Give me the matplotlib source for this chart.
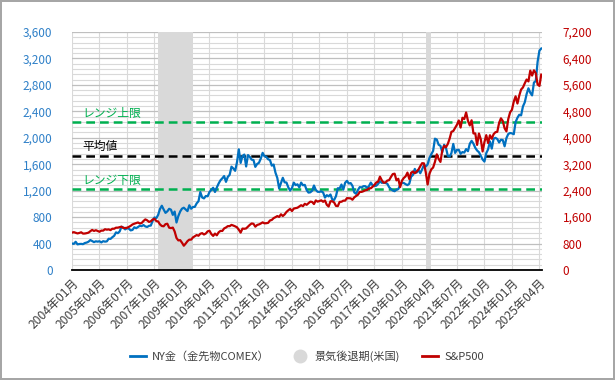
import matplotlib
matplotlib.use("Agg")
import matplotlib.pyplot as plt
import numpy as np
from matplotlib.ticker import FuncFormatter, MultipleLocator
from matplotlib.lines import Line2D

plt.rcParams['font.family'] = ['Noto Sans CJK JP', 'DejaVu Sans']

# ---- data (monthly, 2004-01 .. 2025-05) ----
start_year, start_month = 2004, 1

gold = [
    400, 396, 427, 388, 393, 395, 391, 408, 415, 428, 453, 438,
    422, 434, 429, 435, 417, 436, 429, 433, 473, 470, 496, 517,
    569, 557, 583, 654, 643, 614, 632, 626, 599, 606, 646, 632,
    651, 669, 663, 680, 659, 651, 668, 672, 743, 795, 783, 834,
    923, 972, 916, 864, 887, 926, 912, 834, 884, 718, 815, 884,
    928, 942, 917, 891, 979, 927, 953, 955, 1008, 1040, 1179, 1097,
    1083, 1119, 1115, 1180, 1213, 1244, 1180, 1248, 1309, 1357, 1387, 1421,
    1333, 1409, 1439, 1563, 1536, 1500, 1628, 1825, 1620, 1725, 1746, 1566,
    1738, 1711, 1669, 1664, 1560, 1604, 1622, 1687, 1772, 1719, 1711, 1675,
    1663, 1578, 1595, 1472, 1393, 1234, 1313, 1395, 1326, 1323, 1250, 1202,
    1240, 1322, 1284, 1296, 1250, 1322, 1282, 1287, 1210, 1171, 1175, 1199,
    1278, 1212, 1183, 1182, 1190, 1172, 1095, 1132, 1114, 1142, 1065, 1060,
    1116, 1237, 1234, 1293, 1215, 1320, 1349, 1308, 1315, 1273, 1173, 1152,
    1211, 1254, 1249, 1268, 1268, 1242, 1269, 1322, 1280, 1270, 1275, 1303,
    1343, 1318, 1323, 1316, 1305, 1253, 1224, 1202, 1192, 1215, 1223, 1282,
    1321, 1316, 1298, 1284, 1305, 1413, 1437, 1529, 1473, 1513, 1464, 1523,
    1588, 1566, 1597, 1694, 1751, 1801, 1986, 1973, 1895, 1879, 1780, 1895,
    1850, 1728, 1716, 1769, 1907, 1771, 1817, 1818, 1757, 1784, 1776, 1829,
    1797, 1909, 1954, 1911, 1848, 1807, 1782, 1726, 1672, 1640, 1768, 1826,
    1945, 1836, 1986, 1999, 1982, 1929, 1970, 1966, 1871, 1996, 2057, 2072,
    2067, 2054, 2238, 2303, 2348, 2339, 2474, 2536, 2660, 2749, 2681, 2641,
    2835, 2858, 3150, 3319, 3350,
]

sp500 = [
    1131, 1145, 1126, 1107, 1121, 1141, 1102, 1104, 1115, 1130, 1174, 1212,
    1181, 1204, 1181, 1157, 1192, 1191, 1234, 1220, 1229, 1207, 1249, 1248,
    1280, 1281, 1295, 1311, 1270, 1270, 1277, 1304, 1336, 1378, 1401, 1418,
    1438, 1407, 1421, 1482, 1531, 1503, 1455, 1474, 1527, 1549, 1481, 1468,
    1379, 1331, 1323, 1386, 1400, 1280, 1267, 1283, 1166, 969, 896, 903,
    826, 735, 798, 873, 919, 919, 987, 1021, 1057, 1036, 1096, 1115,
    1074, 1104, 1169, 1187, 1089, 1031, 1102, 1049, 1141, 1183, 1181, 1258,
    1286, 1327, 1326, 1364, 1345, 1321, 1292, 1219, 1131, 1253, 1247, 1258,
    1312, 1366, 1408, 1398, 1310, 1362, 1379, 1407, 1441, 1412, 1416, 1426,
    1498, 1515, 1569, 1598, 1631, 1606, 1686, 1633, 1682, 1757, 1806, 1848,
    1783, 1859, 1872, 1884, 1924, 1960, 1931, 2003, 1972, 2018, 2068, 2059,
    1995, 2105, 2068, 2086, 2107, 2063, 2104, 1972, 1920, 2079, 2080, 2044,
    1940, 1932, 2060, 2065, 2097, 2099, 2174, 2171, 2168, 2126, 2199, 2239,
    2279, 2364, 2363, 2384, 2412, 2423, 2470, 2472, 2519, 2575, 2648, 2674,
    2824, 2714, 2641, 2648, 2705, 2718, 2816, 2902, 2914, 2712, 2760, 2507,
    2704, 2784, 2834, 2946, 2752, 2942, 2980, 2926, 2977, 3038, 3141, 3231,
    3226, 2954, 2585, 2912, 3044, 3100, 3271, 3500, 3363, 3270, 3622, 3756,
    3714, 3811, 3973, 4181, 4204, 4298, 4395, 4523, 4308, 4605, 4567, 4766,
    4516, 4374, 4530, 4132, 4132, 3785, 4130, 3955, 3586, 3872, 4080, 3840,
    4077, 3970, 4109, 4169, 4180, 4450, 4589, 4508, 4288, 4194, 4568, 4770,
    4846, 5096, 5254, 5036, 5278, 5460, 5522, 5648, 5762, 5705, 6032, 5882,
    6041, 5955, 5612, 5569, 5912,
]

# recession periods (start year, start month, end year, end month)
recessions = [(2007, 12, 2009, 6), (2020, 2, 2020, 4)]

range_upper = 2240
range_mean = 1730
range_lower = 1225

tick_labels = ["2004年01月", "2005年04月", "2006年07月", "2007年10月", "2009年01月",
               "2010年04月", "2011年07月", "2012年10月", "2014年01月", "2015年04月",
               "2016年07月", "2017年10月", "2019年01月", "2020年04月", "2021年07月",
               "2022年10月", "2024年01月", "2025年04月"]

left_ticks = [0, 400, 800, 1200, 1600, 2000, 2400, 2800, 3200, 3600]
right_ticks = [0, 800, 1600, 2400, 3200, 4000, 4800, 5600, 6400, 7200]

legend_labels = ["NY金（金先物COMEX）", "景気後退期(米国)", "S&P500"]

# ---- helpers ----
def month_index(ym):
    y, m = ym
    return (y - start_year) * 12 + (m - start_month)

def parse_label(s):
    return (int(s[0:4]), int(s[5:7]))

x = np.arange(len(gold))
x_sp = np.arange(len(sp500))
tick_pos = [month_index(parse_label(s)) for s in tick_labels]

BLUE = "#0070C0"
RED = "#C00000"
GREEN = "#00B050"
LBLUE = "#2F80C8"

fig = plt.figure(figsize=(6.15, 3.8), dpi=100)
fig.patch.set_edgecolor("#a6a6a6")
fig.patch.set_linewidth(1.5)
ax = fig.add_axes([72/615, 1 - 270/380, (542-72)/615, (270-32)/380])
ax2 = ax.twinx()

ax.set_xlim(0, 256.4)
ax.set_ylim(0, 3600)
ax2.set_ylim(0, 7200)

# gridlines
ax.yaxis.set_minor_locator(MultipleLocator(80))
ax.set_yticks(left_ticks)
ax.grid(which="major", axis="y", color="#bfbfbf", linewidth=0.9, zorder=0)
ax.grid(which="minor", axis="y", color="#d9d9d9", linewidth=0.8, zorder=0)
ax.set_xticks(tick_pos)
ax.grid(which="major", axis="x", color="#d9d9d9", linewidth=0.8, zorder=0)
ax.set_axisbelow(True)

# recession shading
for (y0, m0, y1, m1) in recessions:
    ax.axvspan(month_index((y0, m0)), month_index((y1, m1)) + 1,
               color="#d9d9d9", lw=0, zorder=1)

# range lines
ax.axhline(range_upper, color=GREEN, lw=1.8, ls=(0, (3.5, 2)), zorder=3)
ax.axhline(range_mean, color="black", lw=1.8, ls=(0, (3.5, 2)), zorder=3)
ax.axhline(range_lower, color=GREEN, lw=1.8, ls=(0, (3.5, 2)), zorder=3)
ax.text(5.5, range_upper + 35, "レンジ上限", color=GREEN, fontsize=8.5, va="bottom", ha="left", zorder=4)
ax.text(5.5, range_mean + 35, "平均値", color="black", fontsize=8.5, va="bottom", ha="left", zorder=4)
ax.text(5.5, range_lower + 35, "レンジ下限", color=GREEN, fontsize=8.5, va="bottom", ha="left", zorder=4)

ax.plot(x, gold, color=BLUE, lw=1.6, zorder=5)
ax2.plot(x_sp, sp500, color=RED, lw=1.6, zorder=5)

# ticks
fmt = FuncFormatter(lambda v, p: f"{int(v):,}")
ax.yaxis.set_major_formatter(fmt)
ax2.set_yticks(right_ticks)
ax2.yaxis.set_major_formatter(fmt)
ax.set_xticklabels(tick_labels, rotation=45, ha="right", rotation_mode="anchor",
                   fontsize=8.7, color="#404040")
ax.tick_params(axis="y", which="both", length=0, labelsize=8.5, labelcolor=LBLUE, pad=14)
ax.tick_params(axis="x", length=0, pad=5)
ax2.tick_params(axis="y", length=0, labelsize=8.5, labelcolor=RED, pad=15)

for a in (ax, ax2):
    for s in ("top", "left", "right", "bottom"):
        a.spines[s].set_visible(False)
ax.spines["bottom"].set_visible(True)
ax.spines["bottom"].set_color("black")
ax.spines["bottom"].set_linewidth(1.3)

handles = [Line2D([0], [0], color=BLUE, lw=2),
           Line2D([0], [0], marker="o", color="none", markerfacecolor="#d9d9d9",
                  markeredgecolor="#d9d9d9", markersize=9),
           Line2D([0], [0], color=RED, lw=2)]
fig.legend(handles, legend_labels, loc="center", bbox_to_anchor=(307/615, 1 - 356/380),
           ncol=3, frameon=False, fontsize=8, handlelength=1.4, columnspacing=2.0,
           handletextpad=0.6, labelcolor="#404040")

fig.savefig("out.png", dpi=100)
